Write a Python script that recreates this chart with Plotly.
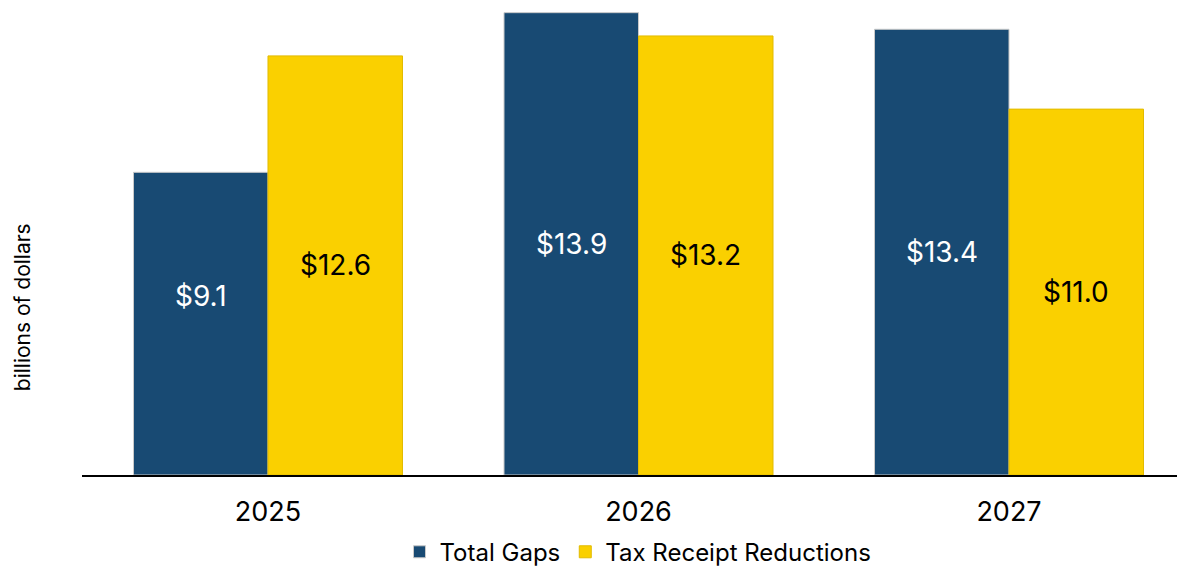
import plotly.graph_objects as go

years = ["2025", "2026", "2027"]
total_gaps = [9.1, 13.9, 13.4]
tax_receipt = [12.6, 13.2, 11.0]
series_names = ["Total Gaps", "Tax Receipt Reductions"]
# vertical nudge (px) of the value labels, as placed in the original
gap_label_shift = [28, 0, 0]
tax_label_shift = [0, 0, 0]

BLUE = "#184a73"
YELLOW = "#fad000"
FONT = "Inter, 'Open Sans', sans-serif"

BARGAP = 0.274
half = (1 - BARGAP) / 4  # center offset of each bar within a group

fig = go.Figure()
fig.add_trace(go.Bar(
    x=years, y=total_gaps, name=series_names[0],
    marker=dict(color=BLUE, line=dict(color="#c9c9c9", width=1)),
))
fig.add_trace(go.Bar(
    x=years, y=tax_receipt, name=series_names[1],
    marker=dict(color=YELLOW, line=dict(color="#e2bb00", width=1)),
))

for i, v in enumerate(total_gaps):
    fig.add_annotation(x=i - half, y=v / 2, xref="x", yref="y", text=f"${v:.1f}",
                       showarrow=False, yshift=gap_label_shift[i],
                       font=dict(color="white", size=28, family=FONT))
for i, v in enumerate(tax_receipt):
    fig.add_annotation(x=i + half, y=v / 2, xref="x", yref="y", text=f"${v:.1f}",
                       showarrow=False, yshift=tax_label_shift[i],
                       font=dict(color="black", size=28, family=FONT))

fig.update_layout(
    width=1185, height=569,
    margin=dict(l=74, r=8, t=2, b=88),
    plot_bgcolor="white", paper_bgcolor="white",
    barmode="group", bargap=BARGAP, bargroupgap=0,
    font=dict(family=FONT, color="black"),
    legend=dict(orientation="h", x=(638 - 82) / 1103, xanchor="center", y=-0.166, yanchor="middle",
                font=dict(size=24, family=FONT, color="black"),
                traceorder="normal"),
    showlegend=True,
)
fig.update_xaxes(
    range=[-0.502, 2.475], showline=True, linecolor="black", linewidth=1.5,
    tickfont=dict(size=27, family=FONT, color="black"), ticks="", ticklabelstandoff=12,
    showgrid=False,
)
fig.update_yaxes(range=[0, 13.98], visible=False, showgrid=False)

fig.add_annotation(
    text="billions of dollars", textangle=-90, xref="paper", yref="paper",
    x=-74 / 1103, y=0.362, xanchor="left", yanchor="middle",
    showarrow=False, font=dict(size=21, family=FONT, color="black"),
)

fig.write_html("out.html")
